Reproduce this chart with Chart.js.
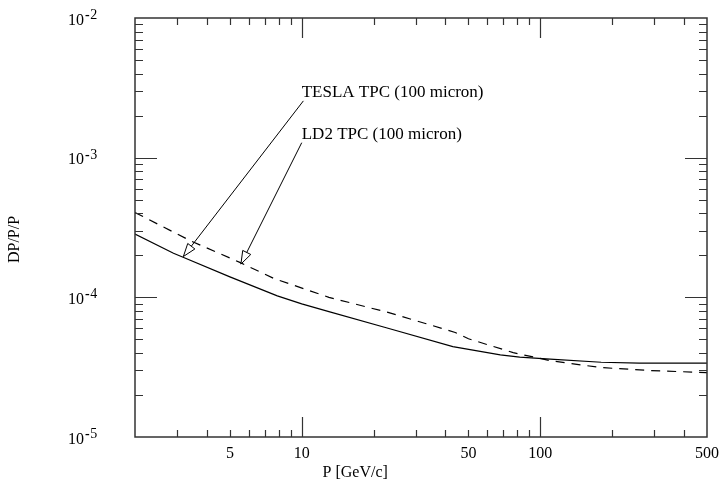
<!DOCTYPE html>
<html><head><meta charset="utf-8">
<script src="https://cdn.jsdelivr.net/npm/chart.js@4/dist/chart.umd.min.js"></script>
<style>html,body{margin:0;padding:0;background:#fff}#wrap{width:720px;height:491px;position:relative}</style>
</head><body><div id="wrap"><canvas id="c" width="720" height="491"></canvas></div>
<script>
// ---- data ----
const teslaP  = [2, 2.9, 3.2, 5, 7.9, 10, 13, 23, 43, 68, 82, 110, 180, 260, 500];
const teslaDP = [2.84e-4, 2.07e-4, 1.93e-4, 1.40e-4, 1.025e-4, 8.98e-5, 7.91e-5, 6.01e-5, 4.44e-5, 3.87e-5, 3.73e-5, 3.61e-5, 3.43e-5, 3.38e-5, 3.38e-5];
const ld2P    = [2, 3.4, 5.5, 7.6, 13, 23, 33, 44, 50, 77, 110, 180, 290, 500];
const ld2DP   = [4.05e-4, 2.55e-4, 1.78e-4, 1.37e-4, 1.00e-4, 7.8e-5, 6.5e-5, 5.6e-5, 5.05e-5, 4.02e-5, 3.52e-5, 3.14e-5, 2.99e-5, 2.89e-5];

const xTickLabels = [5, 10, 50, 100, 500];
const xMajorTicks = [10, 100];
const xMinorTicks = [3, 4, 5, 6, 7, 8, 9, 20, 30, 40, 50, 60, 70, 80, 90, 200, 300, 400];
const yDecades    = [1e-5, 1e-4, 1e-3, 1e-2];
const yExponents  = ['-5', '-4', '-3', '-2'];
const yMajorTicks = [1e-4, 1e-3];
const yMinorTicks = [2e-5, 3e-5, 4e-5, 5e-5, 6e-5, 7e-5, 8e-5, 9e-5,
                     2e-4, 3e-4, 4e-4, 5e-4, 6e-4, 7e-4, 8e-4, 9e-4,
                     2e-3, 3e-3, 4e-3, 5e-3, 6e-3, 7e-3, 8e-3, 9e-3];
const xTitle = 'P [GeV/c]';
const yTitle = 'DP/P/P';
const seriesNames = ['TESLA TPC (100 micron)', 'LD2 TPC (100 micron)'];
// annotation anchors in data units (P, DP/P/P)
const noteTextP  = [10, 10];
const noteTextDP = [2.74e-3, 1.36e-3];
const noteFromP  = [10.16, 10.0];
const noteFromDP = [2.55e-3, 1.28e-3];
const noteToP    = [3.19, 5.56];
const noteToDP   = [1.96e-4, 1.73e-4];

const SERIF = '"Liberation Serif", "DejaVu Serif", serif';

const decorPlugin = {
  id: 'decor',
  afterDatasetsDraw(chart) {
    const ctx = chart.ctx;
    const a = chart.chartArea;
    const xs = chart.scales.x, ys = chart.scales.y;
    ctx.save();
    // frame
    ctx.strokeStyle = '#333';
    ctx.lineWidth = 1.5;
    ctx.strokeRect(a.left, a.top, a.right - a.left, a.bottom - a.top);
    // x ticks (inward, bottom and top)
    ctx.lineWidth = 1.2;
    const xt = (vals, len) => vals.forEach(v => {
      const px = Math.round(xs.getPixelForValue(v)) + 0.5;
      ctx.beginPath();
      ctx.moveTo(px, a.bottom); ctx.lineTo(px, a.bottom - len);
      ctx.moveTo(px, a.top); ctx.lineTo(px, a.top + len);
      ctx.stroke();
    });
    xt(xMinorTicks, 7); xt(xMajorTicks, 20);
    const yt = (vals, len) => vals.forEach(v => {
      const py = Math.round(ys.getPixelForValue(v)) + 0.5;
      ctx.beginPath();
      ctx.moveTo(a.left, py); ctx.lineTo(a.left + len, py);
      ctx.moveTo(a.right, py); ctx.lineTo(a.right - len, py);
      ctx.stroke();
    });
    yt(yMinorTicks, 8); yt(yMajorTicks, 22);
    // y tick labels 10^n
    ctx.fillStyle = '#000';
    yDecades.forEach((v, i) => {
      const py = ys.getPixelForValue(v);
      ctx.font = '16px ' + SERIF;
      ctx.textAlign = 'left';
      ctx.textBaseline = 'alphabetic';
      const bx = a.left - 67;
      ctx.fillText('10', bx, py + 6.5);
      const w = ctx.measureText('10').width;
      ctx.font = 'bold 14px ' + SERIF;
      ctx.fillText(yExponents[i].charAt(0), bx + w + 1, py + 1);
      const hw = ctx.measureText(yExponents[i].charAt(0)).width;
      ctx.font = '14px ' + SERIF;
      ctx.fillText(yExponents[i].slice(1), bx + w + 1 + hw + 0.5, py + 1);
    });
    // axis titles
    ctx.font = '16px ' + SERIF;
    ctx.textAlign = 'center';
    ctx.textBaseline = 'middle';
    ctx.fillText(xTitle, a.left + 0.385 * (a.right - a.left), 473);
    ctx.save();
    ctx.translate(15, (a.top + a.bottom) / 2 + 12);
    ctx.rotate(-Math.PI / 2);
    ctx.fillText(yTitle, 0, 0);
    ctx.restore();
    // annotations
    ctx.font = '17px ' + SERIF;
    ctx.textAlign = 'left';
    ctx.textBaseline = 'alphabetic';
    ctx.strokeStyle = '#000';
    ctx.lineWidth = 1;
    for (let i = 0; i < seriesNames.length; i++) {
      ctx.fillStyle = '#000';
      ctx.fillText(seriesNames[i], xs.getPixelForValue(noteTextP[i]), ys.getPixelForValue(noteTextDP[i]));
      const fx = xs.getPixelForValue(noteFromP[i]), fy = ys.getPixelForValue(noteFromDP[i]);
      const tx = xs.getPixelForValue(noteToP[i]), ty = ys.getPixelForValue(noteToDP[i]);
      ctx.beginPath(); ctx.moveTo(fx, fy); ctx.lineTo(tx, ty); ctx.stroke();
      const ang = Math.atan2(ty - fy, tx - fx);
      const L = 13, H = 4.5;
      const bx = tx - L * Math.cos(ang), by = ty - L * Math.sin(ang);
      const nx = -Math.sin(ang), ny = Math.cos(ang);
      ctx.beginPath();
      ctx.moveTo(tx, ty);
      ctx.lineTo(bx + H * nx, by + H * ny);
      ctx.lineTo(bx - H * nx, by - H * ny);
      ctx.closePath();
      ctx.fillStyle = '#fff';
      ctx.fill();
      ctx.stroke();
    }
    ctx.restore();
  }
};

const xAllTicks = Array.from(new Set([...xMinorTicks, ...xMajorTicks, ...xTickLabels])).sort((p, q) => p - q);

new Chart(document.getElementById('c').getContext('2d'), {
  type: 'line',
  data: {
    datasets: [
      { label: seriesNames[0], data: teslaP.map((p, i) => ({ x: p, y: teslaDP[i] })),
        borderColor: '#000', borderWidth: 1.2, pointRadius: 0, fill: false, tension: 0 },
      { label: seriesNames[1], data: ld2P.map((p, i) => ({ x: p, y: ld2DP[i] })),
        borderColor: '#000', borderWidth: 1.2, borderDash: [9, 7], pointRadius: 0, fill: false, tension: 0 }
    ]
  },
  options: {
    responsive: false, animation: false, devicePixelRatio: 1,
    layout: { padding: { left: 135, right: 13, top: 18, bottom: 28 } },
    plugins: { legend: { display: false }, tooltip: { enabled: false } },
    scales: {
      x: {
        type: 'logarithmic', min: 2, max: 500, position: 'bottom',
        afterBuildTicks: s => { s.ticks = xAllTicks.map(v => ({ value: v })); },
        afterFit: s => { s.paddingLeft = 0; s.paddingRight = 0; s.height = 26; },
        ticks: { autoSkip: false, maxRotation: 0, minRotation: 0, padding: 7, color: '#000',
          font: { family: SERIF, size: 16 },
          callback: v => (xTickLabels.includes(v) ? String(v) : '') },
        grid: { display: false, drawTicks: false },
        border: { display: false }
      },
      y: { type: 'logarithmic', min: 1e-5, max: 1e-2, display: false }
    }
  },
  plugins: [decorPlugin]
});
</script>
</body></html>
